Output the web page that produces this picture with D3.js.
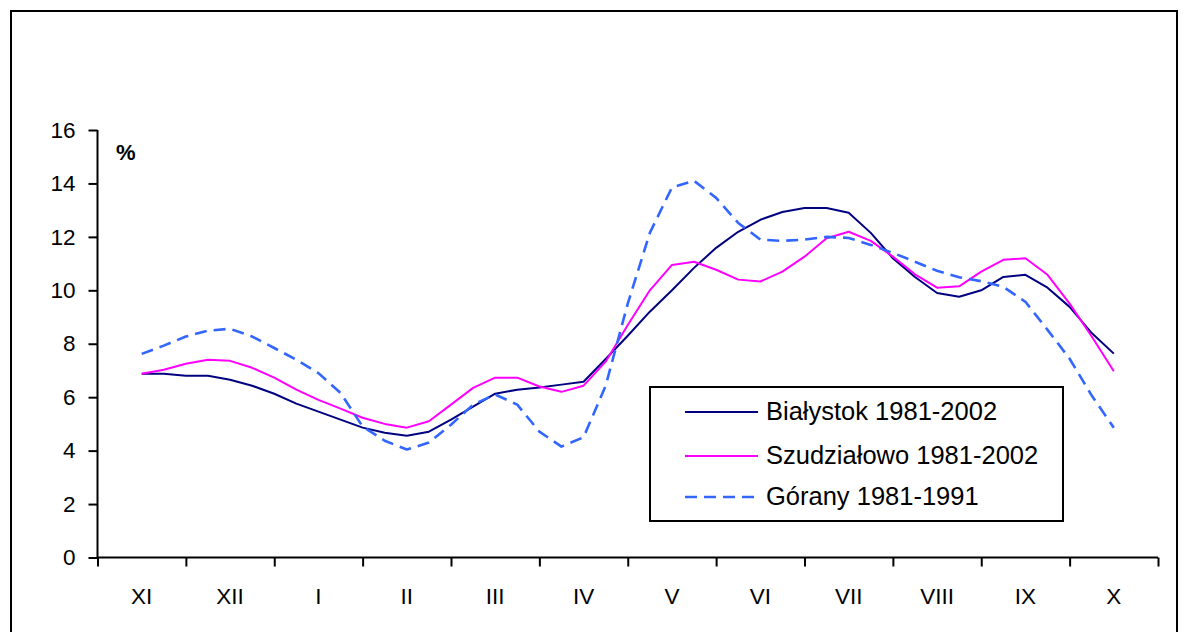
<!DOCTYPE html>
<html>
<head>
<meta charset="utf-8">
<script src="https://cdn.jsdelivr.net/npm/d3@7"></script>
<style>
    body { margin: 0; background: #fff; }
    svg { display: block; font-family: Arial, "Liberation Sans", sans-serif; }
</style>
</head>
<body>
<svg id="chart_svg" width="1188" height="632"></svg>
<script>
// month labels (hydrological year, XI .. X)
const months = ["XI", "XII", "I", "II", "III", "IV", "V", "VI", "VII", "VIII", "IX", "X"];
const yTicks = [0, 2, 4, 6, 8, 10, 12, 14, 16];

// values read every quarter of a month, from mid-XI to mid-X (%)
const bialystok = [6.88, 6.88, 6.80, 6.80, 6.65, 6.43, 6.13, 5.76, 5.46, 5.16,
    4.86, 4.67, 4.56, 4.71, 5.16, 5.65, 6.13, 6.28, 6.36, 6.47,
    6.58, 7.43, 8.30, 9.20, 10.00, 10.84, 11.59, 12.19, 12.64, 12.93,
    13.08, 13.08, 12.90, 12.15, 11.20, 10.50, 9.90, 9.76, 10.00, 10.50,
    10.58, 10.10, 9.38, 8.40, 7.63];

const szudzialowo = [6.88, 7.03, 7.25, 7.40, 7.36, 7.10, 6.73, 6.28, 5.90, 5.57,
    5.23, 5.00, 4.86, 5.10, 5.72, 6.35, 6.73, 6.73, 6.40, 6.20,
    6.43, 7.33, 8.70, 10.00, 10.95, 11.07, 10.77, 10.40, 10.33, 10.70,
    11.26, 11.95, 12.19, 11.85, 11.26, 10.60, 10.10, 10.15, 10.70, 11.14,
    11.20, 10.58, 9.50, 8.27, 6.97];

const gorany = [7.62, 7.93, 8.27, 8.49, 8.56, 8.27, 7.84, 7.40, 6.90, 6.16,
    4.90, 4.37, 4.04, 4.30, 4.97, 5.72, 6.10, 5.72, 4.71, 4.15,
    4.50, 6.43, 9.50, 12.15, 13.85, 14.10, 13.46, 12.52, 11.90, 11.85,
    11.90, 12.00, 11.96, 11.70, 11.40, 11.07, 10.73, 10.49, 10.34, 10.13,
    9.57, 8.52, 7.44, 6.06, 4.86];

const series = [
    { name: "Białystok 1981-2002", values: bialystok, color: "#000080", width: 2, dash: null },
    { name: "Szudziałowo 1981-2002", values: szudzialowo, color: "#ff00ff", width: 2, dash: null },
    { name: "Górany 1981-1991", values: gorany, color: "#3366ff", width: 2.6, dash: "12,7" }
];

const svg = d3.select("#chart_svg");

// outer frame
svg.append("rect")
    .attr("x", 11).attr("y", 11)
    .attr("width", 1166).attr("height", 640)
    .attr("fill", "none")
    .attr("stroke", "#000")
    .attr("stroke-width", 2);

const plotLeft = 97.5, plotRight = 1158, plotTop = 130, plotBottom = 557.5;

const x = d3.scaleLinear().domain([0, months.length]).range([plotLeft, plotRight]);
const y = d3.scaleLinear().domain([0, 16]).range([plotBottom, plotTop]);

// points sit at quarter-month steps starting from the middle of the first month
const step = d3.scalePoint()
    .domain(d3.range(bialystok.length))
    .range([x(0.5), x(months.length - 0.5)]);

// y axis
const yAxis = svg.append("g")
    .attr("transform", "translate(" + plotLeft + ",0)")
    .call(d3.axisLeft(y).tickValues(yTicks).tickSize(9).tickPadding(13).tickFormat(d3.format("d")));
yAxis.select(".domain").attr("stroke-width", 2).attr("d", "M0," + plotBottom + "V" + plotTop);
yAxis.selectAll(".tick line").attr("stroke-width", 2);
yAxis.selectAll("text").attr("font-size", 22.5).attr("fill", "#000");

// x axis: ticks on month boundaries, labels centred in each month
const xAxis = svg.append("g")
    .attr("transform", "translate(0," + plotBottom + ")")
    .call(d3.axisBottom(x).tickValues(d3.range(months.length + 1)).tickSize(9).tickFormat(""));
xAxis.select(".domain").attr("stroke-width", 2).attr("d", "M" + plotLeft + ",0H" + plotRight);
xAxis.selectAll(".tick line").attr("stroke-width", 2);

svg.append("g").selectAll("text")
    .data(months)
    .enter().append("text")
    .attr("x", (d, i) => x(i + 0.5))
    .attr("y", 604)
    .attr("text-anchor", "middle")
    .attr("font-size", 22.5)
    .text(d => d);

// unit label
svg.append("text")
    .attr("x", 116).attr("y", 160)
    .attr("font-size", 22)
    .attr("font-weight", "bold")
    .text("%");

// lines
const line = d3.line()
    .x((d, i) => step(i))
    .y(d => y(d));

svg.append("g").selectAll("path")
    .data(series)
    .enter().append("path")
    .attr("d", d => line(d.values))
    .attr("fill", "none")
    .attr("stroke", d => d.color)
    .attr("stroke-width", d => d.width)
    .attr("stroke-dasharray", d => d.dash)
    .attr("stroke-linejoin", "round");

// legend
const legend = svg.append("g");
legend.append("rect")
    .attr("x", 650).attr("y", 387)
    .attr("width", 413).attr("height", 134)
    .attr("fill", "#fff")
    .attr("stroke", "#000")
    .attr("stroke-width", 2);

const rowY = [412, 456, 497];
const rows = legend.selectAll(".legrow")
    .data(series)
    .enter().append("g")
    .attr("class", "legrow");

rows.append("line")
    .attr("x1", 685).attr("x2", 758)
    .attr("y1", (d, i) => rowY[i]).attr("y2", (d, i) => rowY[i])
    .attr("stroke", d => d.color)
    .attr("stroke-width", d => d.width)
    .attr("stroke-dasharray", d => d.dash);

rows.append("text")
    .attr("x", 766)
    .attr("y", (d, i) => rowY[i] + 8)
    .attr("font-size", 25.5)
    .text(d => d.name);
</script>
</body>
</html>
